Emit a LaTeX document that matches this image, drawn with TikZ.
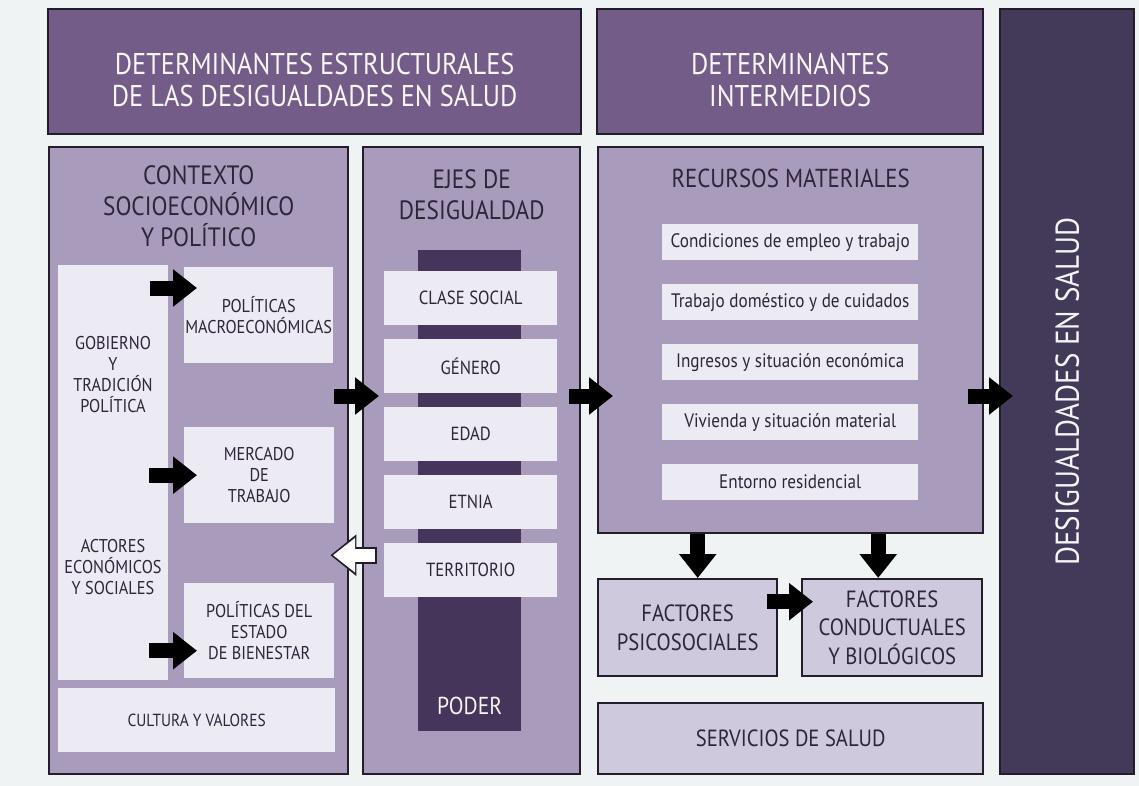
\documentclass[tikz,border=0pt]{standalone}
\usepackage{fontspec}
\setmainfont{PT Sans}[FakeStretch=0.88]
\usetikzlibrary{arrows.meta,positioning}
\definecolor{bgC}{HTML}{EFF3F3}
\definecolor{lineC}{HTML}{231C2B}
\definecolor{hdrC}{HTML}{735D88}
\definecolor{colC}{HTML}{A99BBB}
\definecolor{lightC}{HTML}{ECEAF3}
\definecolor{factC}{HTML}{CFC9DE}
\definecolor{darkC}{HTML}{45355A}
\definecolor{rightC}{HTML}{433A5A}
\definecolor{inkC}{HTML}{2E2538}
\begin{document}
\begin{tikzpicture}
[x=1pt,y=-1pt,
every node/.style={inner sep=0pt,align=center},
frame/.style={draw=lineC,line width=2.4pt,anchor=north west},
hdr/.style={frame,fill=hdrC},
htxt/.style={text=white!94!hdrC,font=\fontsize{30}{32}\selectfont},
col/.style={frame,fill=colC},
fact/.style={frame,fill=factC,text=inkC,font=\fontsize{23.5}{28.5}\selectfont},
ttl/.style={text=inkC,font=\fontsize{26.5}{31}\selectfont},
panel/.style={anchor=north west,fill=lightC,text=inkC,font=\fontsize{18.5}{21}\selectfont},
txt/.style={text=inkC,font=\fontsize{18.5}{21}\selectfont},
blk/.style={draw=black,line width=15pt,-{Triangle[width=36pt,length=24pt]}},
wout/.style={draw=lineC,line width=17pt,-{Triangle[width=40pt,length=26pt]}},
win/.style={draw=white,line width=13pt,shorten >=2.6pt,shorten <=2pt,-{Triangle[width=33pt,length=22pt]}}]
\fill[bgC] (0,0) rectangle (1139,786);
% cabeceras
\node[hdr,minimum width=533pt,minimum height=125pt] (hdrA) at (47,8) {};
\node[htxt] (thdrA) at ([yshift=-8pt]hdrA.center) {DETERMINANTES ESTRUCTURALES\\DE LAS DESIGUALDADES EN SALUD};
\node[hdr,minimum width=386pt,minimum height=125pt] (hdrB) at (596,8) {};
\node[htxt] (thdrB) at ([yshift=-8pt]hdrB.center) {DETERMINANTES\\INTERMEDIOS};
\node[frame,fill=rightC,minimum width=134pt,minimum height=765pt] (dbox) at (999,8) {};
\node[rotate=90,text=white!94!rightC,font=\fontsize{33}{38}\selectfont] (tdes) at (dbox.center) {DESIGUALDADES EN SALUD};
% contexto
\node[col,minimum width=299pt,minimum height=627pt] (colA) at (48,146) {};
\node[ttl,below=19pt of colA.north] (titA) {CONTEXTO\\SOCIOECONÓMICO\\Y POLÍTICO};
\node[panel,minimum width=110pt,minimum height=415pt] (gob) at (58,265) {};
\node[txt] (tgob) at (113,375) {GOBIERNO\\Y\\TRADICIÓN\\POLÍTICA};
\node[txt] (tact) at (113,567) {ACTORES\\ECONÓMICOS\\Y SOCIALES};
\node[panel,minimum width=149pt,minimum height=96pt] (pmac) at (184,267) {POLÍTICAS\\MACROECONÓMICAS};
\node[panel,minimum width=150pt,minimum height=96pt] (merc) at (184,427) {MERCADO\\DE\\TRABAJO};
\node[panel,minimum width=150pt,minimum height=95pt] (pest) at (184,583) {POLÍTICAS DEL\\ESTADO\\DE BIENESTAR};
\node[panel,minimum width=277pt,minimum height=64pt,font=\fontsize{17.5}{20}\selectfont] (cult) at (58,688) {CULTURA Y VALORES};
% ejes
\node[col,minimum width=217pt,minimum height=627pt] (colB) at (362,146) {};
\node[ttl,below=23pt of colB.north] (titB) {EJES DE\\DESIGUALDAD};
\node[anchor=north west,fill=darkC,minimum width=103pt,minimum height=481pt] (pwr) at (418,250) {};
\node[text=white!94!darkC,font=\fontsize{24.5}{28}\selectfont,above=16pt of pwr.south] (tpwr) {PODER};
\foreach \t [count=\i] in {CLASE SOCIAL,GÉNERO,EDAD,ETNIA,TERRITORIO}
  \node[panel,font=\fontsize{19}{22}\selectfont,minimum width=173pt,minimum height=54pt] (eje\i) at (384,{271+68*(\i-1)}) {\t};
% intermedios
\node[col,minimum width=385pt,minimum height=386pt] (colC) at (597,146) {};
\node[ttl,font=\fontsize{26}{30}\selectfont,below=23pt of colC.north] (titC) {RECURSOS MATERIALES};
\foreach \t [count=\i] in {Condiciones de empleo y trabajo,Trabajo doméstico y de cuidados,
  Ingresos y situación económica,Vivienda y situación material,Entorno residencial}
  \node[panel,font=\fontsize{19.5}{22}\selectfont,minimum width=256pt,minimum height=36pt] (rec\i) at (662,{224+60*(\i-1)}) {\t};
\node[fact,minimum width=179pt,minimum height=97pt] (psico) at (597,578) {FACTORES\\PSICOSOCIALES};
\node[fact,minimum width=180pt,minimum height=97pt] (cond) at (801,578) {FACTORES\\CONDUCTUALES\\Y BIOLÓGICOS};
\node[fact,minimum width=385pt,minimum height=71pt,font=\fontsize{23.4}{26}\selectfont] (serv) at (597,702) {SERVICIOS DE SALUD};
% flechas
\coordinate (axis) at (0,396);
\coordinate (back) at ([yshift=15pt]eje5.west);
\draw[blk] ([shift={(-18,23)}]gob.north east) -- ([shift={(13,21)}]pmac.north west);
\draw[blk] ([xshift=-35pt]merc.west) -- ([xshift=13pt]merc.west);
\draw[blk] ([shift={(-35,20)}]pest.west) -- ([shift={(13,20)}]pest.west);
\draw[blk] ([xshift=-15pt]colA.east |- axis) -- ([xshift=17pt]colB.west |- axis);
\draw[blk] ([xshift=-12pt]colB.east |- axis) -- ([xshift=16pt]colC.west |- axis);
\draw[blk] ([xshift=-16pt]colC.east |- axis) -- ([xshift=14pt]dbox.west |- axis);
\draw[blk] ([xshift=10pt]psico.north |- colC.south) -- ([xshift=10pt]psico.north);
\draw[blk] ([xshift=-14pt]cond.north |- colC.south) -- ([xshift=-14pt]cond.north);
\draw[blk] ([shift={(-11,-26)}]psico.east) -- ([shift={(12,-26)}]cond.west);
\draw[wout] ([xshift=15pt]colB.west |- back) -- ([xshift=-19pt]colA.east |- back);
\draw[win] ([xshift=15pt]colB.west |- back) -- ([xshift=-19pt]colA.east |- back);
\end{tikzpicture}
\end{document}
